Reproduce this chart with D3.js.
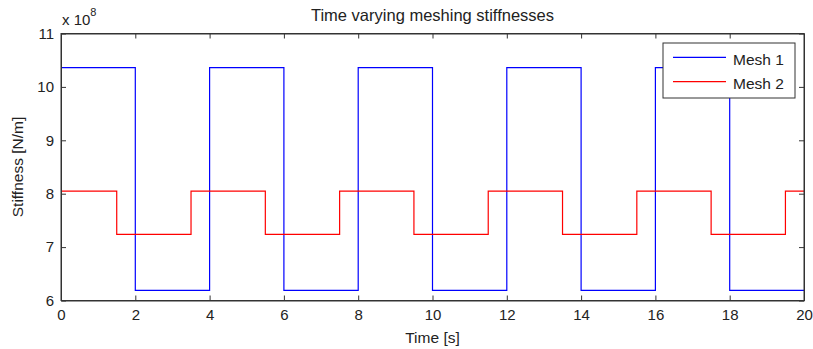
<!DOCTYPE html>
<html lang="en">
<head>
  <meta charset="utf-8">
  <title>Time varying meshing stiffnesses</title>
  <script src="https://cdn.jsdelivr.net/npm/d3@7"></script>
  <style>
  body { margin: 0; background: #fff; }
  text { font-family: "Liberation Sans", Arial, sans-serif; fill: #222; }
  .axis path, .axis line { stroke: #333; }
  </style>
</head>
<body>
  <script>
  // step data, stiffness in units of 1e8 N/m
  var mesh1Times = [0, 2, 4, 6, 8, 10, 12, 14, 16, 18, 20];
  var mesh1Vals  = [10.36, 6.19, 10.36, 6.19, 10.36, 6.19, 10.36, 6.19, 10.36, 6.19, 6.19];
  var mesh2Times = [0, 1.5, 3.5, 5.5, 7.5, 9.5, 11.5, 13.5, 15.5, 17.5, 19.5, 20];
  var mesh2Vals  = [8.05, 7.24, 8.05, 7.24, 8.05, 7.24, 8.05, 7.24, 8.05, 7.24, 8.05, 8.05];
  var xTicks = [0, 2, 4, 6, 8, 10, 12, 14, 16, 18, 20];
  var yTicks = [6, 7, 8, 9, 10, 11];
  var seriesNames = ["Mesh 1", "Mesh 2"];
  var seriesColors = ["#0000ff", "#ff0000"];

  var width = 813, height = 349;
  var margin = {left: 61, right: 9, top: 33.5, bottom: 48.5};
  var w = width - margin.left - margin.right;
  var h = height - margin.top - margin.bottom;

  var svg = d3.select("body").append("svg")
    .attr("width", width)
    .attr("height", height);

  var x = d3.scaleLinear().domain([0, 20]).range([0, w]);
  var y = d3.scaleLinear().domain([6, 11]).range([h, 0]);

  var g = svg.append("g")
    .attr("transform", "translate(" + margin.left + "," + margin.top + ")");

  // lines
  var line = d3.line()
    .x(function(d) { return x(d[0]); })
    .y(function(d) { return y(d[1]); })
    .curve(d3.curveStepAfter);

  var series = [
    d3.zip(mesh1Times, mesh1Vals),
    d3.zip(mesh2Times, mesh2Vals)
  ];

  g.selectAll(".series")
    .data(series)
    .enter().append("path")
    .attr("class", "series")
    .attr("fill", "none")
    .attr("stroke", function(d, i) { return seriesColors[i]; })
    .attr("stroke-width", 1.2)
    .attr("d", line);

  // axes, MATLAB style: inward ticks on all four sides
  var tl = 5;
  g.append("g").attr("class", "axis")
    .attr("transform", "translate(0," + h + ")")
    .call(d3.axisBottom(x).tickValues(xTicks).tickSizeInner(-tl).tickSizeOuter(0).tickPadding(9).tickFormat(d3.format("d")))
    .call(function(s) { s.selectAll("text").attr("font-size", 15); });
  g.append("g").attr("class", "axis")
    .call(d3.axisTop(x).tickValues(xTicks).tickSizeInner(-tl).tickSizeOuter(0).tickFormat(""));
  g.append("g").attr("class", "axis")
    .call(d3.axisLeft(y).tickValues(yTicks).tickSizeInner(-tl).tickSizeOuter(0).tickPadding(7).tickFormat(d3.format("d")))
    .call(function(s) { s.selectAll("text").attr("font-size", 15); });
  g.append("g").attr("class", "axis")
    .attr("transform", "translate(" + w + ",0)")
    .call(d3.axisRight(y).tickValues(yTicks).tickSizeInner(-tl).tickSizeOuter(0).tickFormat(""));
  g.selectAll(".axis text").attr("fill", "#222").style("font-family", "Liberation Sans, Arial, sans-serif");

  g.append("rect")
    .attr("width", w).attr("height", h)
    .attr("fill", "none").attr("stroke", "#333");

  // exponent label
  var ex = svg.append("text").attr("x", 62).attr("y", 25).attr("font-size", 15);
  ex.append("tspan").text("x 10");
  ex.append("tspan").attr("dy", -9).attr("font-size", 11).text("8");

  // title and axis labels
  svg.append("text")
    .attr("x", margin.left + w / 2).attr("y", 21)
    .attr("text-anchor", "middle").attr("font-size", 16.5)
    .text("Time varying meshing stiffnesses");
  svg.append("text")
    .attr("x", margin.left + w / 2).attr("y", 343)
    .attr("text-anchor", "middle").attr("font-size", 15.5)
    .text("Time [s]");
  svg.append("text")
    .attr("transform", "translate(23," + (margin.top + h / 2) + ") rotate(-90)")
    .attr("text-anchor", "middle").attr("font-size", 15.5)
    .text("Stiffness [N/m]");

  // legend
  var lg = svg.append("g").attr("transform", "translate(663,43)");
  lg.append("rect").attr("width", 132).attr("height", 55)
    .attr("fill", "#fff").attr("stroke", "#333");
  seriesNames.forEach(function(name, i) {
    var yy = 14.3 + i * 24.4;
    lg.append("line").attr("x1", 10).attr("x2", 63).attr("y1", yy).attr("y2", yy)
      .attr("stroke", seriesColors[i]).attr("stroke-width", 1.2);
    lg.append("text").attr("x", 70).attr("y", yy + 7.5).attr("font-size", 15.5).text(name);
  });
  </script>
</body>
</html>
